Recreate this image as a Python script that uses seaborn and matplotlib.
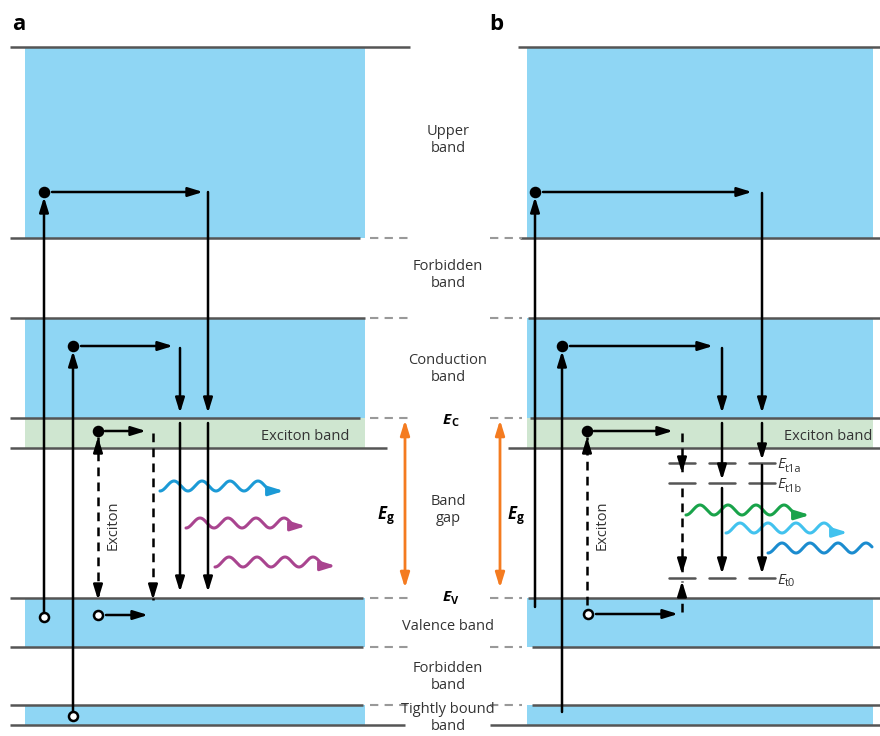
import matplotlib

matplotlib.use("Agg")
import matplotlib.pyplot as plt
import numpy as np
import seaborn as sns

sns.set_style("white")
plt.rcParams["font.family"] = ["Open Sans", "DejaVu Sans"]

# ── band levels (pixel rows, top -> bottom) ─────────────────
levels = [47, 238, 318, 418, 448, 598, 647, 705, 725]
a_solid_end = [410, 360, 365, 360, 387, 363, 363, 363, 405]
a_dashed = [False, True, True, True, False, True, True, True, False]
b_solid_start = [518, 520, 528, 530, 508, 528, 532, 532, 490]
b_dashed = [False, True, True, True, False, True, True, True, False]

blue_bands = [(47, 238), (318, 418), (598, 647), (705, 725)]
exciton_band = (418, 448)
panel_fill = {"a": (25, 365), "b": (527, 873)}

mid_labels = ["Upper\nband", "Forbidden\nband", "Conduction\nband", "Band\ngap",
              "Valence band", "Forbidden\nband", "Tightly bound\nband"]
mid_label_y = [140, 275, 369, 510, 626, 677, 718]

trap_levels = [463, 483, 578]
trap_names = ["t1a", "t1b", "t0"]
trap_x = [682, 722, 762]

BLUE = "#8fd6f4"
GREEN = "#cfe6d0"
LINE = "#555555"
ORANGE = "#f47b20"
TXT = "#333333"

fig = plt.figure(figsize=(8.8, 7.36), dpi=100)
ax = fig.add_axes([0, 0, 1, 1])
ax.set_xlim(0, 880)
ax.set_ylim(736, 0)
ax.axis("off")

# ── bands ───────────────────────────────────────────────────
for x0, x1 in panel_fill.values():
    for top, bot in blue_bands:
        ax.fill_between([x0, x1], top, bot, color=BLUE, lw=0)
    ax.fill_between([x0, x1], exciton_band[0], exciton_band[1], color=GREEN, lw=0)

for y, ea, da, sb, db in zip(levels, a_solid_end, a_dashed, b_solid_start, b_dashed):
    ax.plot([10, ea], [y, y], color=LINE, lw=1.8, solid_capstyle="butt")
    ax.plot([sb, 880], [y, y], color=LINE, lw=1.8, solid_capstyle="butt")
    if da:
        ax.plot([370, 412], [y, y], color="#999999", lw=1.5, ls=(0, (4, 3)))
    if db:
        ax.plot([490, 522], [y, y], color="#999999", lw=1.5, ls=(0, (4, 3)))

# ── text in the middle ──────────────────────────────────────
for lab, y in zip(mid_labels, mid_label_y):
    ax.text(448, y, lab, ha="center", va="center", fontsize=10.5, color=TXT,
            linespacing=1.1)


def sub_label(x, y, main, sub, size=11, bold=True, color="black"):
    w = "bold" if bold else "normal"
    ax.text(x, y, main, fontsize=size, fontweight=w, style="italic",
            color=color, ha="left", va="center")
    off = size * 0.72
    ax.text(x + off, y + 4, sub, fontsize=size * 0.72,
            fontweight=w, color=color, ha="left", va="center")


sub_label(443, 420, "E", "C")
sub_label(443, 597, "E", "V")
sub_label(378, 514, "E", "g", size=12)
sub_label(508, 514, "E", "g", size=12)

ax.text(12, 24, "a", fontsize=16, fontweight="bold", va="center", color="black")
ax.text(489, 24, "b", fontsize=16, fontweight="bold", va="center", color="black")
ax.text(305, 437, "Exciton band", fontsize=10.5, color=TXT, ha="center", va="center")
ax.text(828, 437, "Exciton band", fontsize=10.5, color=TXT, ha="center", va="center")
ax.text(113, 525, "Exciton", fontsize=10.5, color=TXT, rotation=90, ha="center", va="center")
ax.text(602, 525, "Exciton", fontsize=10.5, color=TXT, rotation=90, ha="center", va="center")

HEAD = "-|>,head_length=0.55,head_width=0.17"
HEAD2 = "<|-|>,head_length=0.55,head_width=0.17"


# ── arrow helpers ───────────────────────────────────────────
def arrow(x0, y0, x1, y1, color="black", lw=1.8, style=HEAD):
    ax.annotate("", xy=(x1, y1), xytext=(x0, y0),
                arrowprops=dict(arrowstyle=style, color=color, lw=lw,
                                mutation_scale=16, shrinkA=0, shrinkB=0))


def dashed_arrow(x0, y0, x1, y1, heads=("end",)):
    ax.plot([x0, x1], [y0, y1], color="black", lw=1.8, ls=(0, (3.5, 2.5)))
    d = 12 if y1 > y0 else -12
    if "end" in heads:
        arrow(x1, y1 - d, x1, y1)
    if "start" in heads:
        arrow(x0, y0 + d, x0, y0)


def dot(x, y, filled=True):
    ax.plot(x, y, "o", ms=6.5, mfc="black" if filled else "white", mec="black", mew=1.8,
            zorder=5)


def wave(x0, x1, y, color, wl=28, amp=5):
    xs = np.linspace(x0, x1 - 12, 200)
    ys = y + amp * np.sin(2 * np.pi * (xs - x0) / wl + np.pi / 2)
    ax.plot(xs, ys, color=color, lw=2.2)
    arrow(x1 - 16, ys[-1], x1, ys[-1], color=color, lw=2.2)


# ── panel a ─────────────────────────────────────────────────
arrow(44, 617, 44, 197)
dot(44, 192)
arrow(52, 192, 203, 192)
arrow(208, 192, 208, 413)
arrow(208, 423, 208, 592)
dot(44, 617, filled=False)

arrow(73, 716, 73, 351)
dot(73, 346)
arrow(81, 346, 173, 346)
arrow(180, 348, 180, 413)
arrow(180, 423, 180, 592)
dot(73, 716, filled=False)

dot(98, 431)
arrow(105, 431, 146, 431)
dashed_arrow(98, 437, 98, 600, heads=("start", "end"))
dot(98, 615, filled=False)
arrow(106, 615, 148, 615)
dashed_arrow(153, 433, 153, 600)

wave(160, 284, 486, "#1b9ad6")
wave(186, 306, 523, "#a9448f")
wave(215, 336, 562, "#a9448f")

arrow(405, 588, 405, 420, color=ORANGE, lw=2, style=HEAD2)

# ── panel b ─────────────────────────────────────────────────
for ty, name in zip(trap_levels, trap_names):
    for tx in trap_x:
        ax.plot([tx - 13, tx + 13], [ty, ty], color=LINE, lw=1.8)
    sub_label(777, ty + 2, "E", name, size=11, bold=False, color=TXT)

arrow(535, 607, 535, 197)
dot(535, 192)
arrow(543, 192, 752, 192)
arrow(762, 193, 762, 413)
arrow(762, 423, 762, 460)
arrow(762, 465, 762, 574)

arrow(562, 712, 562, 351)
dot(562, 346)
arrow(570, 346, 713, 346)
arrow(722, 348, 722, 413)
arrow(722, 423, 722, 480)
arrow(722, 488, 722, 574)

dot(587, 431)
arrow(594, 431, 673, 431)
dashed_arrow(587, 605, 587, 437, heads=("end",))
dashed_arrow(682, 433, 682, 473)
dashed_arrow(682, 488, 682, 574)
dot(588, 614, filled=False)
arrow(596, 614, 678, 614)
dashed_arrow(682, 612, 682, 581)

wave(686, 810, 510, "#19a34a")
wave(726, 848, 528, "#42c2ee")
wave(768, 884, 548, "#1b8ccf")

arrow(500, 588, 500, 420, color=ORANGE, lw=2, style=HEAD2)

fig.savefig("out.png", dpi=100)
